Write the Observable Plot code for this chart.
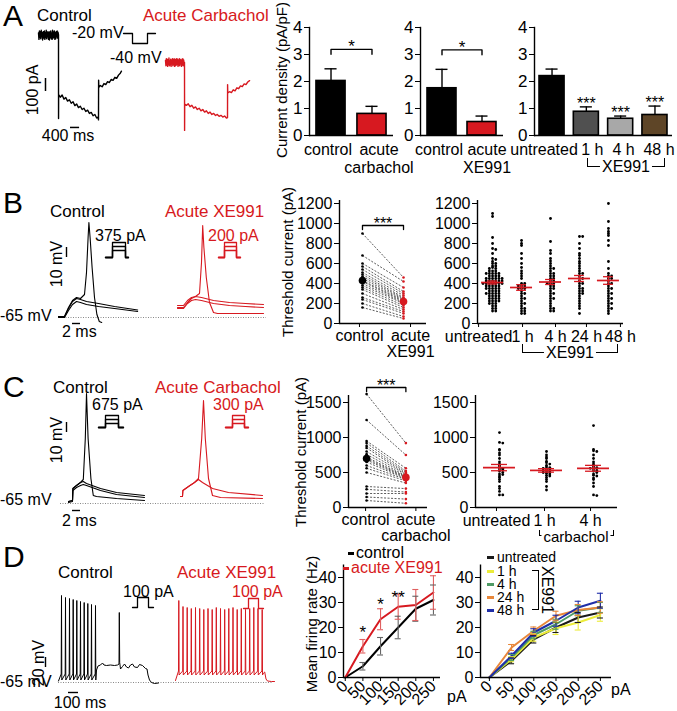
<!DOCTYPE html>
<html><head><meta charset="utf-8">
<script src="https://cdn.jsdelivr.net/npm/d3@7"></script>
<script src="https://cdn.jsdelivr.net/npm/@observablehq/plot@0.6"></script>
<style>
html,body{margin:0;padding:0;background:#fff;}
#root{position:relative;width:677px;height:711px;overflow:hidden;font-family:"Liberation Sans",Arial,sans-serif;color:#000;background:#fff;}
#root svg{position:absolute;overflow:visible;}
.t{position:absolute;white-space:pre;line-height:1;}
</style></head><body><div id="root"></div>
<script>
// ================= DATA =================
const RED = "#d71920";

// Panel A – current density (pA/pF)
const aCats1 = ["control", "acute\ncarbachol"];
const aMean1 = [2.02, 0.8];
const aSem1 = [0.45, 0.28];
const aFill1 = ["#000000", RED];
const aCats2 = ["control", "acute\nXE991"];
const aMean2 = [1.75, 0.5];
const aSem2 = [0.7, 0.22];
const aFill2 = ["#000000", RED];
const aCats3 = ["untreated", "1 h", "4 h", "48 h"];
const aMean3 = [2.2, 0.88, 0.62, 0.76];
const aSem3 = [0.26, 0.18, 0.1, 0.33];
const aFill3 = ["#000000", "#505050", "#a8a8a8", "#5e4527"];
const aStars3 = ["", "***", "***", "***"];
const aTicks = [0, 1, 2, 3, 4];

// Panel A – current traces [ms, pA]
const aTraceCtrl = [[0,20],[20,-30],[40,35],[60,-15],[80,30],[100,-25],[120,40],[140,-10],[160,25],[180,-35],[200,15],[220,30],[240,-20],[260,35],[280,-30],[300,20],[320,-15],[340,40],[360,-25],[380,25],[400,-10],[420,30],[440,-30],[460,20],[480,-35],[500,30],[520,-15],[540,35],[560,-25],[580,15],[600,-30],[620,40],[640,-20],[660,25],[680,-15],[700,35],[720,-30],[740,20],[760,-25],[780,30],[800,-10],[820,35],[840,-20],[860,25],[880,5],
[882,-640],[886,-455],[960,-475],[1040,-458],[1120,-490],[1200,-478],[1280,-505],[1360,-495],[1440,-522],[1520,-510],[1600,-540],[1680,-528],[1760,-555],[1840,-545],[1920,-570],[2000,-560],[2080,-585],[2160,-575],[2240,-600],[2320,-592],[2400,-618],[2480,-608],[2560,-635],[2620,-628],[2640,-650],
[2645,-345],[2655,-400],[2720,-385],[2800,-395],[2880,-370],[2960,-378],[3040,-355],[3120,-362],[3200,-338],[3280,-345],[3360,-322],[3440,-330],[3520,-305],[3600,-290],[3650,-275]];
const aTraceCarb = [[0,15],[19,-25],[38,30],[57,-20],[76,25],[95,-30],[114,20],[133,-15],[152,35],[171,-25],[190,10],[209,-20],[228,25],[247,-30],[266,15],[285,-10],[304,30],[323,-25],[342,20],[361,-15],[380,30],[399,-30],[418,20],[437,-25],[456,25],[475,-20],[494,30],[513,-15],[532,25],[551,-30],[570,15],[589,-20],[608,30],[627,-25],[646,20],[665,-10],[684,25],[703,-30],[722,15],[741,-20],[760,30],[779,-25],[798,20],[817,-10],[836,0],
[840,-523],[845,-320],[920,-330],[1000,-318],[1080,-340],[1160,-330],[1240,-352],[1320,-342],[1400,-362],[1480,-352],[1560,-372],[1640,-362],[1720,-382],[1800,-372],[1880,-392],[1960,-382],[2040,-400],[2120,-392],[2200,-408],[2280,-400],[2360,-415],[2440,-407],[2520,-420],[2600,-412],[2680,-428],[2728,-424],
[2732,-170],[2740,-235],[2820,-225],[2900,-232],[2980,-210],[3060,-218],[3140,-195],[3220,-202],[3300,-180],[3380,-186],[3460,-165],[3540,-170],[3620,-150],[3700,-140]];
const aProtocol = [[0,-20],[0.9,-20],[0.9,-40],[2.4,-40],[2.4,-20],[3.2,-20]]; // s, mV

// Panel B – voltage traces [ms, mV]
const bCtrlSpike = [[0,-64],[1.5,-64],[2.5,-55],[3.5,-48],[4.5,-45],[5.5,-46],[6.5,-42],[7.0,-20],[7.4,15],[7.6,30],[7.9,15],[8.4,-15],[9.0,-45],[9.6,-62],[10.2,-69],[10.8,-70]];
const bCtrlSub1 = [[0,-64],[1.5,-64],[2.5,-56],[3.5,-49],[4.5,-46],[5.5,-47],[7,-49],[10,-51],[14,-54],[19.8,-57.5]];
const bCtrlSub2 = [[0,-65],[1.5,-65],[2.5,-58],[3.5,-52],[4.5,-49],[5.5,-50],[7,-52],[10,-54],[14,-56],[19.8,-59]];
const bRedSpike = [[0,-55],[1.5,-55],[2.5,-50],[3.5,-46],[4.5,-44],[5.5,-41],[6.0,-10],[6.3,27],[6.6,5],[7.2,-25],[8,-50],[9,-60],[10,-61],[15,-61],[21.5,-61]];
const bRedSub1 = [[0,-53],[1.5,-53],[2.5,-48],[3.5,-45],[4.5,-44],[6,-45],[9,-48],[13,-50],[17,-51],[21.5,-52]];
const bRedSub2 = [[0,-56],[1.5,-56],[2.5,-51],[3.5,-48],[4.5,-47],[6,-48],[9,-51],[13,-53],[17,-54],[21.5,-55]];

// Panel B – threshold current (pA), paired
const bPairCtrl = [900, 680, 600, 570, 540, 510, 490, 470, 450, 430, 420, 400, 380, 360, 340, 300, 260, 240, 200, 160];
const bPairXE = [460, 420, 360, 320, 300, 280, 260, 250, 240, 230, 220, 210, 200, 180, 160, 140, 120, 100, 70, 50];
const bPairMean = [430, 220];
const bPairSem = [35, 28];
// Panel B – threshold current over time of XE991
const bLabels = ["untreated", "1 h", "4 h", "24 h", "48 h"];
const bUntreated = [1100, 1070, 860, 800, 750, 740, 700, 650, 640, 620, 600, 600, 575, 575, 560, 550, 550, 525, 525, 525, 500, 500, 500, 500, 500, 475, 475, 475, 475, 450, 450, 450, 450, 450, 450, 425, 425, 425, 425, 425, 425, 400, 400, 400, 400, 400, 400, 400, 375, 375, 375, 375, 375, 350, 350, 350, 350, 350, 325, 325, 325, 325, 300, 300, 300, 300, 300, 275, 275, 275, 275, 250, 250, 250, 250, 225, 225, 225, 225, 200, 200, 200, 175, 175, 150, 150, 125, 125];
const b1h = [830, 800, 780, 700, 650, 600, 560, 525, 500, 475, 450, 400, 400, 375, 375, 375, 350, 350, 350, 325, 300, 300, 275, 250, 250, 225, 200, 200, 175, 150, 150, 125, 125, 100, 100];
const b4h = [1050, 820, 730, 700, 650, 625, 600, 575, 550, 550, 525, 500, 500, 475, 475, 450, 450, 425, 425, 400, 400, 400, 375, 375, 350, 350, 325, 300, 300, 275, 250, 250, 225, 200, 175, 150, 150, 125, 125];
const b24h = [870, 870, 800, 750, 700, 680, 650, 620, 600, 575, 550, 525, 500, 500, 475, 450, 450, 425, 400, 400, 375, 350, 350, 325, 325, 300, 300, 275, 250, 225, 200, 175, 150, 100];
const b48h = [1200, 1020, 950, 920, 900, 880, 830, 780, 620, 550, 500, 475, 475, 450, 450, 425, 400, 400, 375, 350, 350, 325, 300, 300, 275, 250, 250, 225, 200, 200, 175, 150, 150, 125, 100];
const bMeans = [410, 360, 415, 450, 430];
const bSems = [15, 28, 25, 30, 38];
const bTicks = [0, 200, 400, 600, 800, 1000, 1200];

// Panel C – voltage traces [ms, mV]
const cCtrlSpike = [[0,-63],[1,-62],[1.1,-50],[2,-47],[3,-44],[3.7,-41],[4.2,0],[4.5,45],[4.9,0],[5.6,-40],[6.2,-57],[7,-58],[12,-60],[19,-62]];
const cCtrlSub1 = [[0,-63],[1,-62],[1.1,-50],[2,-47],[3,-44],[3.7,-43],[4.5,-45],[8,-50],[12,-54],[19,-57]];
const cCtrlSub2 = [[0,-64],[1,-63],[1.1,-52],[2,-49],[3,-47],[3.7,-46],[4.5,-47],[8,-52],[12,-56],[19,-59]];
const cRedSpike = [[0,-58],[0.5,-58],[0.6,-52],[2,-48],[3.5,-44],[4.5,-40],[5.3,0],[5.75,38],[6.2,0],[7,-40],[8,-57],[10,-59],[20.5,-60]];
const cRedSub = [[0,-58],[0.5,-58],[0.6,-52],[2,-48],[3.5,-44],[4.5,-41],[5.5,-44],[8,-50],[12,-54],[20.5,-57]];

// Panel C – threshold current (pA)
const cPairCtrl = [1620, 1250, 950, 920, 880, 850, 800, 760, 720, 700, 680, 650, 600, 560, 500, 300, 260, 200, 150, 100];
const cPairCarb = [920, 750, 560, 520, 500, 480, 470, 450, 440, 430, 420, 410, 400, 380, 350, 270, 220, 200, 120, 60];
const cPairMean = [700, 430];
const cPairSem = [70, 45];
const cLabels = ["untreated", "1 h", "4 h"];
const cUntreated = [1070, 930, 920, 830, 820, 780, 750, 700, 650, 620, 600, 580, 560, 550, 540, 520, 500, 480, 470, 450, 430, 400, 370, 300, 270, 230, 180, 180];
const c1h = [800, 750, 720, 700, 660, 640, 620, 600, 580, 570, 560, 550, 540, 530, 520, 510, 500, 490, 480, 460, 450, 430, 400, 370, 300, 250];
const c4h = [1170, 830, 810, 800, 750, 700, 650, 620, 600, 580, 570, 560, 550, 530, 520, 500, 480, 460, 450, 420, 400, 350, 300, 180, 170];
const cMeans = [570, 530, 560];
const cSems = [45, 25, 42];
const cTicks = [0, 500, 1000, 1500];

// Panel D – spike trains (ms, mV)
const dCtrlSpikeT = [30, 70, 110, 147, 183, 220, 257, 293, 330, 370];
const dCtrlSpikeV = [109, 105, 103, 101, 99, 97, 95, 93, 91, 89];
const dCtrlTail = [[380,-40],[395,-32],[420,-30],[440,-26],[455,-30],[480,-31],[520,-30],[560,-31],[590,-30],[605,-28],[608,75],[612,-25],[620,-38],[640,-33],[660,-28],[680,-34],[700,-36],[720,-30],[740,-28],[760,-34],[790,-35],[810,-29],[840,-31],[870,-37],[885,-38],[895,-50],[910,-60],[930,-65],[960,-67],[1000,-66]];
const dRedSpikeT = [33, 75, 117, 158, 200, 242, 283, 325, 367, 408, 450, 492, 533, 575, 617, 658, 700, 742, 783, 825, 867];
const dRedSpikeV = [99, 87, 85, 83, 85, 83, 81, 83, 81, 85, 83, 81, 83, 85, 81, 83, 81, 83, 85, 83, 81];
const dRedTail = [[880,-46],[892,-44],[905,-58],[920,-62],[960,-63],[990,-63]];

// Panel D – mean firing rate (Hz) vs injected current (pA)
const dX = [0, 50, 100, 150, 200, 250];
const dCtrl = [0, 4.5, 12.5, 20, 27.5, 31];
const dCtrlErr = [0, 1.5, 3.5, 4.5, 5, 6];
const dXE = [0, 12.5, 23.3, 28.3, 29, 34];
const dXEErr = [0, 2.7, 4.2, 5, 6.2, 6.7];
const dStars = [{x: 50, y: 17.8, s: "*"}, {x: 100, y: 29, s: "*"}, {x: 150, y: 31.8, s: "**"}];
const d2Names = ["untreated", "1 h", "4 h", "24 h", "48 h"];
const d2Colors = ["#1a1a1a", "#ecec3a", "#4e9a64", "#e8873a", "#1f2ea8"];
const d2Vals = [
  [0, 6.7, 15.3, 20, 24, 26],
  [0, 7.3, 16, 19.7, 22, 25],
  [0, 8, 17, 21.3, 26.7, 28],
  [0, 12, 18.7, 24.7, 27, 28],
  [0, 8.7, 18, 22.7, 28, 30.7]];
const d2Errs = [
  [0, 1.2, 1.5, 2, 2, 2.2],
  [0, 1, 1.5, 2.5, 3, 2.5],
  [0, 1.2, 1.5, 2, 2, 2],
  [0, 1.2, 1.5, 1.8, 2.2, 2.3],
  [0, 1, 1.5, 2.2, 2.5, 3]];
const dTicks = [0, 10, 20, 30, 40];

// ================= HELPERS =================
const root = document.getElementById("root");
const FONT = '"Liberation Sans", Arial, sans-serif';
const plain = d => String(d);
function plot(opts, left, top) {
  const svg = Plot.plot({...opts, style: {background: "transparent", overflow: "visible", fontFamily: FONT, fontSize: "16px", color: "#000"}});
  svg.style.left = left + "px"; svg.style.top = top + "px";
  root.appendChild(svg);
  return svg;
}
function txt(s, x, y, o = {}) {
  const {size = 16, color = "#000", anchor = "start", rotate = 0, bg = null} = o;
  const d = document.createElement("div");
  d.className = "t";
  d.textContent = s;
  const tx = anchor === "start" ? "0" : anchor === "middle" ? "-50%" : "-100%";
  Object.assign(d.style, {left: x + "px", top: y + "px", fontSize: size + "px", color,
    transform: `translate(${tx},-50%)` + (rotate ? ` rotate(${rotate}deg)` : "")});
  if (bg) { d.style.background = bg; d.style.padding = "0 2px"; }
  root.appendChild(d);
}
function box(x, y, w, h, sides, color = "#000", bw = 1.3) {
  const d = document.createElement("div");
  Object.assign(d.style, {position: "absolute", left: x + "px", top: y + "px", width: w + "px", height: h + "px", boxSizing: "border-box"});
  for (const s of sides) d.style["border" + s] = `${bw}px solid ${color}`;
  root.appendChild(d);
}
function dash(x, y, w, color) {
  const d = document.createElement("div");
  Object.assign(d.style, {position: "absolute", left: x + "px", top: (y - 1.5) + "px", width: w + "px", height: "3px", background: color});
  root.appendChild(d);
}
function groupBracket(x1, x2, yTop, yLine, label, cx, size = 16) {
  box(x1, yTop, x2 - x1, yLine - yTop, ["Left", "Right", "Bottom"]);
  txt(label, cx, yLine, {anchor: "middle", bg: "#fff", size});
}
const P = d => d[0], V = d => d[1];
function tracePlot({left, top, width, height, xDomain, yDomain, marks}) {
  return plot({width, height, margin: 0,
    x: {domain: xDomain, range: [0, width], axis: null},
    y: {domain: yDomain, range: [height, 0], axis: null}, marks}, left, top);
}
function traceLine(tr, color, w = 1.1) { return Plot.line(tr, {x: P, y: V, stroke: color, strokeWidth: w}); }
function icon(left, baseY, width, levels, pre, dur, color) {
  const rows = levels.flatMap((L, k) => [[0,0],[pre,0],[pre,L],[pre+dur,L],[pre+dur,0],[width,0]].map(p => ({k, t: p[0], v: p[1]})));
  tracePlot({left, top: baseY - 17, width, height: 18, xDomain: [0, width], yDomain: [-0.25, 4.25],
    marks: [Plot.line(rows, {x: "t", y: "v", z: "k", stroke: color, strokeWidth: 1.3})]});
}
function spikeTrain(times, peaks, start, thr, trough) {
  const pts = [start];
  times.forEach((t, i) => pts.push([t - 3, thr], [t, peaks[i]], [t + 3, trough]));
  return pts;
}

function barChart(c) {
  const rows = c.cats.map((k, i) => ({c: k, m: c.mean[i], e: c.sem[i], f: c.fill[i], s: c.stars ? c.stars[i] : ""}));
  const marks = [
    Plot.barY(rows, {x: "c", y: "m", fill: "f", stroke: "#000", strokeWidth: 1.6}),
    Plot.ruleX(rows, {x: "c", y1: "m", y2: d => d.m + d.e, strokeWidth: 1.4}),
    Plot.tickY(rows, {x: "c", y: d => d.m + d.e, insetLeft: c.capInset, insetRight: c.capInset, strokeWidth: 1.4}),
    Plot.axisY({ticks: aTicks, tickFormat: plain, tickSize: 5, tickPadding: 2, label: null, fontSize: 17}),
    Plot.frame({anchor: "left", strokeWidth: 1.4}),
    Plot.ruleY([0], {strokeWidth: 1.4})
  ];
  if (c.stars) marks.push(Plot.text(rows, {x: "c", y: d => d.m + d.e, text: "s", dy: 2, lineAnchor: "bottom", fontSize: 16}));
  if (c.sig) {
    const s = c.sig;
    marks.push(Plot.line([{c: s.from, y: s.y - s.leg}, {c: s.from, y: s.y}, {c: s.to, y: s.y}, {c: s.to, y: s.y - s.leg}], {x: "c", y: "y", strokeWidth: 1.4}));
    marks.push(Plot.text([s], {x: "from", y: "y", text: "label", dx: s.dx, dy: 3, lineAnchor: "bottom", fontSize: 17}));
  }
  c.cats.forEach((k, i) => marks.push(Plot.axisX([k], {tickSize: 0, tickPadding: 7, label: null, lineHeight: 1.1, dx: c.labelDx ? c.labelDx[i] : 0})));
  return plot({width: c.width, height: 180, marginLeft: c.mL, marginRight: c.mR, marginTop: 27, marginBottom: 45,
    x: {type: "band", domain: c.cats, paddingInner: c.pIn, paddingOuter: c.pOut, round: false},
    y: {domain: [0, 4]}, color: {type: "identity"}, marks}, c.left, 0);
}

function pairedChart(c) {
  const pairs = c.ctrl.map((v, i) => ({c: v, a: c.acute[i]}));
  const means = c.mean.map((m, i) => ({i, m, s: c.sem[i], col: i ? RED : "#000"}));
  const s = c.sig;
  const marks = [
    Plot.link(pairs, {x1: () => 0, x2: () => 1, y1: "c", y2: "a", stroke: "#333", strokeWidth: 0.8, strokeDasharray: "2,1.5"}),
    Plot.dot(pairs, {x: () => 0, y: "c", r: 1.3, fill: "#000"}),
    Plot.dot(pairs, {x: () => 1, y: "a", r: 1.3, fill: RED}),
    Plot.ruleX(means, {x: "i", y1: d => d.m - d.s, y2: d => d.m + d.s, stroke: "col", strokeWidth: 1.6}),
    Plot.dot(means, {x: "i", y: "m", r: 3.8, fill: "col"}),
    Plot.line([[0, s.y - s.leg], [0, s.y], [1, s.y], [1, s.y - s.leg]], {x: P, y: V, strokeWidth: 1.3}),
    Plot.text([s], {x: () => 0.5, y: "y", text: "label", dy: 3, lineAnchor: "bottom", fontSize: 16}),
    Plot.axisY({ticks: c.ticks, tickFormat: plain, tickSize: 5, tickPadding: 2, label: null}),
    Plot.ruleX([c.xDomain[0]], {strokeWidth: 1.4}),
    Plot.ruleY([c.yDomain[0]], {strokeWidth: 1.4})
  ];
  c.labels.forEach((l, i) => marks.push(Plot.axisX([i], {tickFormat: () => l, tickSize: 4, tickPadding: 2, lineHeight: 1, label: null, dx: c.labelDx[i]})));
  return plot({width: c.width, height: c.height, marginLeft: c.mL, marginRight: c.mR, marginTop: c.mT, marginBottom: c.mB,
    x: {domain: c.xDomain}, y: {domain: c.yDomain}, color: {type: "identity"}, marks}, c.left, c.top);
}

function swarmChart(c) {
  const pts = [];
  c.groups.forEach((vals, g) => {
    const used = new Map();
    for (const v of vals) {
      const k = Math.round(v / c.bin);
      const n = used.get(k) || 0; used.set(k, n + 1);
      const off = n === 0 ? 0 : (n % 2 ? 1 : -1) * Math.ceil(n / 2) * c.spacing;
      pts.push({x: g + off, y: v});
    }
  });
  const ms = c.mean.map((m, i) => ({i, m, s: c.sem[i]}));
  const marks = [
    Plot.dot(pts, {x: "x", y: "y", r: 1.4, fill: "#000"}),
    Plot.ruleY(ms, {y: "m", x1: d => d.i - c.meanHalf, x2: d => d.i + c.meanHalf, stroke: RED, strokeWidth: 1.7}),
    Plot.ruleY(ms, {y: d => d.m + d.s, x1: d => d.i - c.semHalf, x2: d => d.i + c.semHalf, stroke: RED, strokeWidth: 1.3}),
    Plot.ruleY(ms, {y: d => d.m - d.s, x1: d => d.i - c.semHalf, x2: d => d.i + c.semHalf, stroke: RED, strokeWidth: 1.3}),
    Plot.ruleX(ms, {x: "i", y1: d => d.m - d.s, y2: d => d.m + d.s, stroke: RED, strokeWidth: 1.3}),
    Plot.axisY({ticks: c.ticks, tickFormat: plain, tickSize: 5, tickPadding: 2, label: null}),
    Plot.ruleX([c.xDomain[0]], {strokeWidth: 1.4}),
    Plot.ruleY([c.yDomain[0]], {strokeWidth: 1.4})
  ];
  c.labels.forEach((l, i) => marks.push(Plot.axisX([i], {tickFormat: () => l, tickSize: 4, tickPadding: 3, label: null, dx: c.labelDx[i]})));
  return plot({width: c.width, height: c.height, marginLeft: c.mL, marginRight: c.mR, marginTop: c.mT, marginBottom: c.mB,
    x: {domain: c.xDomain}, y: {domain: c.yDomain}, marks}, c.left, c.top);
}

function firingChart(c) {
  const rows = c.series.flatMap(s => dX.map((x, i) => ({name: s.name, col: s.color, ecol: s.ecol, x, y: s.vals[i], e: s.errs[i]})));
  const er = rows.filter(d => d.e > 0);
  const marks = [
    Plot.line(rows, {x: "x", y: "y", z: "name", stroke: "col", strokeWidth: 2}),
    Plot.ruleX(er, {x: "x", y1: d => d.y - d.e, y2: d => d.y + d.e, stroke: "ecol", strokeWidth: 1.1}),
    Plot.ruleY(er, {y: d => d.y + d.e, x1: d => d.x - c.capHalf, x2: d => d.x + c.capHalf, stroke: "ecol", strokeWidth: 1.1}),
    Plot.ruleY(er, {y: d => d.y - d.e, x1: d => d.x - c.capHalf, x2: d => d.x + c.capHalf, stroke: "ecol", strokeWidth: 1.1}),
    Plot.axisY({ticks: dTicks, tickFormat: plain, tickSize: 5, tickPadding: 2, label: null}),
    Plot.axisX({ticks: dX, tickFormat: plain, tickRotate: -45, tickSize: 4, tickPadding: 2, label: null}),
    Plot.ruleX([c.xDomain[0]], {strokeWidth: 1.4}),
    Plot.ruleY([0], {strokeWidth: 1.4})
  ];
  if (c.stars) marks.push(Plot.text(c.stars, {x: "x", y: "y", text: "s", fontSize: 17}));
  return plot({width: c.width, height: 161, marginLeft: c.mL, marginRight: c.mR, marginTop: 14.5, marginBottom: 34,
    x: {domain: c.xDomain}, y: {domain: [0, 45]}, color: {type: "identity"}, marks}, c.left, 550);
}

// ================= PANEL A =================
txt("A", 3, 16, {size: 30});
txt("Control", 37, 15, {size: 17});
txt("Acute Carbachol", 143, 15, {size: 17, color: RED});
txt("-20 mV", 72, 33);
txt("-40 mV", 110, 58);
txt("100 pA", 33, 90, {anchor: "middle", rotate: -90});
txt("400 ms", 68, 136, {anchor: "middle"});
txt("Current density (pA/pF)", 281, 80, {anchor: "middle", rotate: -90, size: 15});

tracePlot({left: 30, top: 20, width: 100, height: 125, xDomain: [-352, 4048], yDomain: [-847, 115.5], marks: [
  traceLine(aTraceCtrl, "#000", 1.4),
  Plot.ruleX([308], {y1: -331, y2: -431, strokeWidth: 1.5}),   // 100 pA
  Plot.ruleY([-708], {x1: 1408, x2: 1808, strokeWidth: 1.5})   // 400 ms
]});
tracePlot({left: 160, top: 50, width: 100, height: 90, xDomain: [-220, 4180], yDomain: [-600.6, 92.4], marks: [
  traceLine(aTraceCarb, RED, 1.4)
]});
tracePlot({left: 120, top: 28, width: 40, height: 20, xDomain: [-0.3, 3.7], yDomain: [-50, -10], marks: [
  traceLine(aProtocol, "#000", 1.3)
]});

barChart({cats: aCats1, mean: aMean1, sem: aSem1, fill: aFill1, left: 250, width: 150, mL: 59, mR: 7, pIn: 0.29, pOut: 0.17, capInset: 8.5,
  labelDx: [-3, 7], sig: {from: aCats1[0], to: aCats1[1], y: 3.19, leg: 0.18, label: "*", dx: 20.5}});
barChart({cats: aCats2, mean: aMean2, sem: aSem2, fill: aFill2, left: 361, width: 150, mL: 59, mR: 8, pIn: 0.275, pOut: 0.175, capInset: 8.5,
  labelDx: [-3, 5], sig: {from: aCats2[0], to: aCats2[1], y: 3.17, leg: 0.18, label: "*", dx: 20}});
barChart({cats: aCats3, mean: aMean3, sem: aSem3, fill: aFill3, stars: aStars3, left: 475, width: 202, mL: 59, mR: 5, pIn: 0.27, pOut: 0.146, capInset: 6.5,
  labelDx: [-8, 6, 3, 4]});
groupBracket(587, 665, 158, 167, "XE991", 626);

// ================= PANEL B =================
txt("B", 3, 203, {size: 30});
txt("Control", 50, 211, {size: 17});
txt("375 pA", 95, 236);
txt("Acute XE991", 165, 211, {size: 17, color: RED});
txt("200 pA", 208, 236, {color: RED});
txt("10 mV", 57, 264, {anchor: "middle", rotate: -90});
txt("-65 mV", 0, 316);
txt("2 ms", 62, 332);
txt("Threshold current (pA)", 287, 262, {anchor: "middle", rotate: -90, size: 15});

tracePlot({left: 58, top: 210, width: 210, height: 120, xDomain: [0, 52.5], yDomain: [-78, 42], marks: [
  Plot.ruleY([-65], {x1: 0, x2: 52, stroke: "#888", strokeDasharray: "1,1.5"}),
  traceLine(bCtrlSub2, "#000"), traceLine(bCtrlSub1, "#000"), traceLine(bCtrlSpike, "#000"),
  Plot.ruleX([2], {y1: -5, y2: 5, strokeWidth: 1.4}),          // 10 mV
  Plot.ruleY([-71], {x1: 3.5, x2: 5.5, strokeWidth: 1.4})      // 2 ms
]});
tracePlot({left: 177, top: 210, width: 92, height: 120, xDomain: [0, 23], yDomain: [-78, 42], marks: [
  traceLine(bRedSub2, RED), traceLine(bRedSub1, RED), traceLine(bRedSpike, RED)
]});
icon(105, 257, 23, [3.75, 2.75, 1.75], 7, 13, "#000");
icon(218, 257, 22, [3.75, 2.75, 1.75], 6, 12, RED);

pairedChart({ctrl: bPairCtrl, acute: bPairXE, mean: bPairMean, sem: bPairSem, labels: ["control", "acute\nXE991"], labelDx: [-3, 7], ticks: bTicks,
  sig: {y: 980, leg: 40, label: "***"}, left: 290, top: 180, width: 140, height: 170, mL: 49, mR: 4, mT: 20, mB: 27,
  xDomain: [-0.56, 1.56], yDomain: [0, 1230]});
swarmChart({groups: [bUntreated, b1h, b4h, b24h, b48h], labels: bLabels, labelDx: [-14, 1, 5, 7, 12], mean: bMeans, sem: bSems,
  bin: 25, spacing: 0.11, meanHalf: 0.38, semHalf: 0.17, ticks: bTicks,
  left: 430, top: 180, width: 200, height: 170, mL: 47, mR: 7, mT: 20, mB: 27, xDomain: [-0.52, 4.52], yDomain: [0, 1230]});
groupBracket(522, 618, 344, 353, "XE991", 570);

// ================= PANEL C =================
txt("C", 3, 387, {size: 30});
txt("Control", 53, 387, {size: 17});
txt("675 pA", 92, 405);
txt("Acute Carbachol", 155, 387, {size: 17, color: RED});
txt("300 pA", 213, 405, {color: RED});
txt("10 mV", 57, 440, {anchor: "middle", rotate: -90});
txt("-65 mV", 0, 500);
txt("2 ms", 62, 521);
txt("Threshold current (pA)", 300, 452, {anchor: "middle", rotate: -90, size: 15});

tracePlot({left: 60, top: 385, width: 205, height: 130, xDomain: [-2, 49.25], yDomain: [-77, 53], marks: [
  Plot.ruleY([-65], {x1: -2, x2: 49, stroke: "#888", strokeDasharray: "1,1.5"}),
  traceLine(cCtrlSub2, "#000"), traceLine(cCtrlSub1, "#000"), traceLine(cCtrlSpike, "#000"),
  Plot.ruleX([-0.5], {y1: 6, y2: 16, strokeWidth: 1.4}),       // 10 mV
  Plot.ruleY([-72], {x1: 1, x2: 3, strokeWidth: 1.4})          // 2 ms
]});
tracePlot({left: 178, top: 385, width: 90, height: 130, xDomain: [-0.5, 22], yDomain: [-77, 53], marks: [
  traceLine(cRedSub, RED), traceLine(cRedSpike, RED)
]});
icon(98, 427, 25, [3, 2, 1], 7, 13, "#000");
icon(225, 427, 23, [3, 2, 1], 7, 12, RED);

pairedChart({ctrl: cPairCtrl, acute: cPairCarb, mean: cPairMean, sem: cPairSem, labels: ["control", "acute\ncarbachol"], labelDx: [-1, 10], ticks: cTicks,
  sig: {y: 1714, leg: 60, label: "***"}, left: 290, top: 360, width: 140, height: 170, mL: 58, mR: 3, mT: 35, mB: 23,
  xDomain: [-0.46, 1.55], yDomain: [0, 1600]});
swarmChart({groups: [cUntreated, c1h, c4h], labels: cLabels, labelDx: [-3, -2, -3], mean: cMeans, sem: cSems,
  bin: 30, spacing: 0.07, meanHalf: 0.34, semHalf: 0.17, ticks: cTicks,
  left: 430, top: 360, width: 200, height: 170, mL: 45, mR: 13, mT: 35, mB: 23, xDomain: [-0.51, 2.51], yDomain: [0, 1600]});
groupBracket(539, 614, 530, 536, "carbachol", 576, 15);

// ================= PANEL D =================
txt("D", 3, 557, {size: 30});
txt("Control", 58, 572, {size: 17});
txt("100 pA", 123, 592);
txt("Acute XE991", 177, 572, {size: 17, color: RED});
txt("100 pA", 232, 592, {color: RED});
txt("20 mV", 39, 663, {anchor: "middle", rotate: -90});
txt("-65 mV", 0, 682);
txt("100 ms", 80, 703, {anchor: "middle"});
txt("Mean firing rate (Hz)", 311, 624, {anchor: "middle", rotate: -90, size: 15});

const dCtrlTrace = [...spikeTrain(dCtrlSpikeT, dCtrlSpikeV, [0, -62], -48, -60), ...dCtrlTail];
const dRedTrace = [...spikeTrain(dRedSpikeT, dRedSpikeV, [0, -61], -42, -50), ...dRedTail];
tracePlot({left: 40, top: 585, width: 232, height: 110, xDomain: [-180, 2140], yDomain: [-91, 129], marks: [
  Plot.ruleY([-65], {x1: 0, x2: 2140, stroke: "#888", strokeDasharray: "1,1.5"}),
  traceLine(dCtrlTrace, "#000", 1),
  Plot.ruleX([-130], {y1: -35, y2: -15, strokeWidth: 1.4}),    // 20 mV
  Plot.ruleY([-85], {x1: 100, x2: 200, strokeWidth: 1.4})      // 100 ms
]});
tracePlot({left: 172, top: 585, width: 103, height: 110, xDomain: [-30, 1000], yDomain: [-91, 129], marks: [
  traceLine(dRedTrace, RED, 1)
]});
icon(132, 607, 21, [2.5], 5, 11, "#000");
icon(243, 608, 20, [2.5], 5, 10, RED);

firingChart({series: [
    {name: "control", color: "#000", ecol: "#666", vals: dCtrl, errs: dCtrlErr},
    {name: "acute XE991", color: RED, ecol: "#e06060", vals: dXE, errs: dXEErr}],
  stars: dStars, capHalf: 8.5, left: 295, width: 175, mL: 48, mR: 30, xDomain: [-5, 270]});
txt("pA", 447, 697);
dash(348, 553, 6, "#000"); txt("control", 356, 553, {size: 16});
dash(343, 568, 6, RED); txt("acute XE991", 351, 568, {size: 16, color: RED});

firingChart({series: d2Names.map((n, i) => ({name: n, color: d2Colors[i], ecol: d2Colors[i], vals: d2Vals[i], errs: d2Errs[i]})),
  capHalf: 6.8, left: 432, width: 190, mL: 48, mR: 11, xDomain: [-20, 275]});
txt("pA", 611, 690);
const d2LegendY = [557, 571, 584, 597, 610];
d2Names.forEach((n, i) => { dash(487, d2LegendY[i], 7, d2Colors[i]); txt(n, 497, d2LegendY[i], {size: 14}); });
box(532, 570, 7, 40, ["Top", "Right", "Bottom"]);
txt("XE991", 547, 590, {anchor: "middle", rotate: 90});
</script></body></html>
